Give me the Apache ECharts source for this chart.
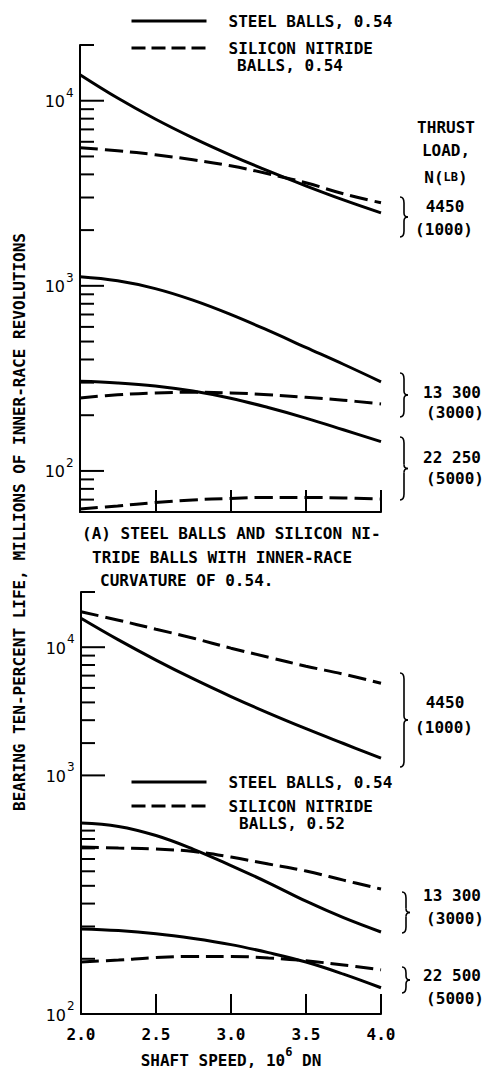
<!DOCTYPE html>
<html>
<head>
<meta charset="utf-8">
<script src="https://cdn.jsdelivr.net/npm/echarts@6/dist/echarts.min.js"></script>
<style>
html,body{margin:0;padding:0;background:#fff;}
#chart{width:484px;height:1078px;}
</style>
</head>
<body>
<div id="chart"></div>
<script>
// ---- Data ----
const xVals = [2.0, 2.25, 2.5, 2.75, 3.0, 3.25, 3.5, 3.75, 4.0];

// (A) steel balls 0.54 vs silicon nitride balls 0.54
const steelA_4450  = [13820, 10340, 7970, 6302, 5088, 4174, 3471, 2914, 2480];
const snA_4450     = [5572, 5366, 5107, 4799, 4453, 4031, 3605, 3143, 2809];
const steelA_13300 = [1119, 1064, 966, 837, 701, 574, 465, 377, 303];
const snA_13300    = [248, 258, 264, 266, 264, 258, 250, 241, 230];
const steelA_22250 = [305, 299, 288, 270, 247, 220, 193, 167, 144];
const snA_22250    = [62.3, 64.7, 67.5, 69.7, 71.0, 71.9, 71.9, 71.5, 70.6];

// (B) steel balls 0.54 vs silicon nitride balls 0.52
const steelB_4450  = [14390, 10965, 8511, 6714, 5383, 4375, 3597, 2985, 2483];
const snB_4450     = [15610, 14030, 12540, 11190, 9880, 8820, 7880, 7130, 6360];
const steelB_13300 = [1099, 1054, 940, 791, 645, 519, 412, 335, 280];
const snB_13300    = [813, 803, 793, 769, 717, 657, 602, 537, 480];
const steelB_22500 = [291, 285, 274, 258, 239, 216, 192, 165, 139];
const snB_22500    = [192, 197, 203, 206, 206, 202, 195, 185, 174];

// axis ranges and ticks
const yRangeA = [60, 20000];
const yRangeB = [100, 20000];
const xTickLabels = ['2.0', '2.5', '3.0', '3.5', '4.0'];
const yMajorA = [100, 1000, 10000];
const yMinorA = [70, 80, 90, 200, 300, 400, 500, 600, 700, 800, 900,
                 2000, 3000, 4000, 5000, 6000, 7000, 8000, 9000, 20000];
const yLabelValsA = [100, 1000, 10000];
const yLabelExpA  = [2, 3, 4];
// lower panel: the reference prints "10^3" beside its 2000 tick
const yMajorB = [2000, 10000];
const yMinorB = [200, 300, 400, 500, 600, 700, 800, 900, 1000,
                 3000, 4000, 5000, 6000, 7000, 8000, 9000, 20000];
const yLabelValsB = [100, 2000, 10000];
const yLabelExpB  = [2, 3, 4];

const STEEL = 'STEEL BALLS, 0.54';
const SN_A = 'SILICON NITRIDE BALLS, 0.54';
const SN_B = 'SILICON NITRIDE BALLS, 0.52';

// ---- Styling ----
const FONT = '"DejaVu Sans Mono", monospace';
const FW = 'bold';
const BLACK = '#000';
const DASH = [18, 7];
const LEGEND_DASH = [14, 6];

function pairs(arr) { return xVals.map((x, i) => [x, arr[i]]); }
function lineSeries(name, arr, idx, dashed) {
  return {
    type: 'line', name: name, xAxisIndex: idx, yAxisIndex: idx,
    data: pairs(arr), smooth: 0.4, symbol: 'none', silent: true,
    lineStyle: { color: BLACK, width: 3, type: dashed ? DASH : 'solid' },
    itemStyle: { color: BLACK }
  };
}
function tickSeries(vals, idx, len) {
  return {
    type: 'custom', xAxisIndex: idx, yAxisIndex: idx, silent: true, clip: false, z: 5,
    data: vals.map(v => [2, v]), encode: { x: 0, y: 1 },
    renderItem: function (params, api) {
      const p = api.coord([api.value(0), api.value(1)]);
      return { type: 'line', shape: { x1: p[0], y1: p[1], x2: p[0] + len, y2: p[1] },
               style: { stroke: BLACK, lineWidth: 2 } };
    }
  };
}
function labelSeries(vals, exps, idx) {
  return {
    type: 'custom', xAxisIndex: idx, yAxisIndex: idx, silent: true, clip: false, z: 5,
    data: vals.map((v, i) => [2, v, exps[i]]), encode: { x: 0, y: 1 },
    renderItem: function (params, api) {
      const p = api.coord([api.value(0), api.value(1)]);
      return { type: 'group', children: [
        { type: 'text', x: p[0] - 15, y: p[1] + 1,
          style: { text: '10', align: 'right', verticalAlign: 'middle',
                   fontSize: 16, fontFamily: '"DejaVu Sans", sans-serif', fill: BLACK } },
        { type: 'text', x: p[0] - 14, y: p[1] - 8,
          style: { text: String(api.value(2)), align: 'left', verticalAlign: 'middle',
                   fontSize: 12, fontFamily: '"DejaVu Sans", sans-serif', fill: BLACK } }
      ]};
    }
  };
}
const braceStyle = { stroke: BLACK, fill: null, lineWidth: 1.6 };
function brace(x, y0, y1) {
  const ym = (y0 + y1) / 2, c = x + 4;
  return { type: 'group', children: [
    { type: 'bezierCurve', shape: { x1: x, y1: y0, cpx1: c, cpy1: y0, x2: c, y2: y0 + 6 }, style: braceStyle },
    { type: 'line', shape: { x1: c, y1: y0 + 6, x2: c, y2: ym - 4 }, style: braceStyle },
    { type: 'bezierCurve', shape: { x1: c, y1: ym - 4, cpx1: c, cpy1: ym, x2: x + 8, y2: ym }, style: braceStyle },
    { type: 'bezierCurve', shape: { x1: x + 8, y1: ym, cpx1: c, cpy1: ym, x2: c, y2: ym + 4 }, style: braceStyle },
    { type: 'line', shape: { x1: c, y1: ym + 4, x2: c, y2: y1 - 6 }, style: braceStyle },
    { type: 'bezierCurve', shape: { x1: c, y1: y1 - 6, cpx1: c, cpy1: y1, x2: x, y2: y1 }, style: braceStyle }
  ]};
}
function txt(text, x, y, align, extra) {
  return Object.assign({ type: 'text', x: x, y: y,
    style: { text: text, align: align || 'center', verticalAlign: 'middle',
             fontSize: 16, fontFamily: FONT, fontWeight: FW, fill: BLACK } }, extra || {});
}

const axisLine = { show: true, lineStyle: { color: BLACK, width: 2 } };
const chart = echarts.init(document.getElementById('chart'), null, { renderer: 'svg' });

const legendText = { fontFamily: FONT, fontWeight: FW, fontSize: 16, color: BLACK,
                     padding: [0, 0, 0, 17], lineHeight: 20 };
const legendFmt = n => n.indexOf('SILICON') === 0 ? 'SILICON NITRIDE' : n;
// hide the symbol that ECharts adds to line-series legend icons
const legendItemStyle = { color: 'rgba(0,0,0,0)', borderWidth: 0, opacity: 0 };
const legendLine = { width: 3, color: BLACK, opacity: 1 };

chart.setOption({
  backgroundColor: '#fff',
  animation: false,
  grid: [
    { left: 80, top: 45, width: 301, height: 467 },
    { left: 81, top: 592, width: 300, height: 422 }
  ],
  legend: [
    { top: 6, left: 125, orient: 'vertical', itemWidth: 75, itemHeight: 14, itemGap: 7,
      selectedMode: false, formatter: legendFmt, textStyle: legendText,
      itemStyle: legendItemStyle, lineStyle: legendLine,
      data: [{ name: STEEL }, { name: SN_A, lineStyle: { type: LEGEND_DASH } }] },
    { top: 767, left: 125, orient: 'vertical', itemWidth: 75, itemHeight: 14, itemGap: 4,
      selectedMode: false, formatter: legendFmt, textStyle: legendText,
      itemStyle: legendItemStyle, lineStyle: legendLine,
      data: [{ name: STEEL }, { name: SN_B, lineStyle: { type: LEGEND_DASH } }] }
  ],
  xAxis: [
    { gridIndex: 0, type: 'value', min: 2, max: 4, interval: 0.5,
      axisLine: axisLine, splitLine: { show: false },
      axisTick: { inside: true, length: 22, lineStyle: { color: BLACK, width: 2 } },
      axisLabel: { show: false } },
    { gridIndex: 1, type: 'value', min: 2, max: 4, interval: 0.5,
      axisLine: axisLine, splitLine: { show: false },
      axisTick: { inside: true, length: 20, lineStyle: { color: BLACK, width: 2 } },
      axisLabel: { margin: 12, color: BLACK, fontSize: 16, fontFamily: FONT, fontWeight: FW,
                   formatter: v => xTickLabels[Math.round((v - 2) / 0.5)] },
      name: '{a|SHAFT SPEED, 10}{s|6}{a| DN}', nameLocation: 'middle', nameGap: 32,
      nameTextStyle: { rich: {
        a: { fontSize: 16, fontFamily: FONT, fontWeight: FW, color: BLACK, lineHeight: 22, verticalAlign: 'bottom' },
        s: { fontSize: 12, fontFamily: FONT, fontWeight: FW, color: BLACK, lineHeight: 12, verticalAlign: 'top' }
      } } }
  ],
  yAxis: [
    { gridIndex: 0, type: 'log', logBase: 10, min: yRangeA[0], max: yRangeA[1],
      axisLine: axisLine, axisTick: { show: false }, axisLabel: { show: false }, splitLine: { show: false } },
    { gridIndex: 1, type: 'log', logBase: 10, min: yRangeB[0], max: yRangeB[1],
      axisLine: axisLine, axisTick: { show: false }, axisLabel: { show: false }, splitLine: { show: false } }
  ],
  series: [
    lineSeries(STEEL, steelA_4450, 0, false),
    lineSeries(SN_A, snA_4450, 0, true),
    lineSeries(STEEL, steelA_13300, 0, false),
    lineSeries(SN_A, snA_13300, 0, true),
    lineSeries(STEEL, steelA_22250, 0, false),
    lineSeries(SN_A, snA_22250, 0, true),
    lineSeries(STEEL, steelB_4450, 1, false),
    lineSeries(SN_B, snB_4450, 1, true),
    lineSeries(STEEL, steelB_13300, 1, false),
    lineSeries(SN_B, snB_13300, 1, true),
    lineSeries(STEEL, steelB_22500, 1, false),
    lineSeries(SN_B, snB_22500, 1, true),
    tickSeries(yMajorA, 0, 24), tickSeries(yMinorA, 0, 14), labelSeries(yLabelValsA, yLabelExpA, 0),
    tickSeries(yMajorB, 1, 24), tickSeries(yMinorB, 1, 14), labelSeries(yLabelValsB, yLabelExpB, 1)
  ],
  graphic: [
    txt('BEARING TEN-PERCENT LIFE, MILLIONS OF INNER-RACE REVOLUTIONS', 19, 522, 'center', { rotation: Math.PI / 2 }),
    txt('BALLS, 0.54', 290, 65),
    txt('BALLS, 0.52', 292, 823),
    txt('(A) STEEL BALLS AND SILICON NI-', 82, 533, 'left'),
    txt('TRIDE BALLS WITH INNER-RACE', 92, 557, 'left'),
    txt('CURVATURE OF 0.54.', 100, 580, 'left'),
    txt('THRUST', 446, 127),
    txt('LOAD,', 446, 150),
    { type: 'text', x: 446, y: 177, style: { text: '{a|N(}{b|LB}{a|)}', align: 'center', verticalAlign: 'middle',
      rich: { a: { fontSize: 16, fontFamily: FONT, fontWeight: FW, fill: BLACK },
              b: { fontSize: 12, fontFamily: FONT, fontWeight: FW, fill: BLACK } } } },
    brace(400, 197, 237), txt('4450', 445, 206), txt('(1000)', 444, 229),
    brace(400, 373, 417), txt('13 300', 452, 392), txt('(3000)', 455, 412),
    brace(400, 437, 500), txt('22 250', 452, 457), txt('(5000)', 455, 478),
    brace(400, 673, 767), txt('4450', 445, 702), txt('(1000)', 444, 727),
    brace(402, 892, 933), txt('13 300', 452, 895), txt('(3000)', 455, 918),
    brace(402, 967, 993), txt('22 500', 452, 975), txt('(5000)', 455, 998)
  ]
});
</script>
</body>
</html>
